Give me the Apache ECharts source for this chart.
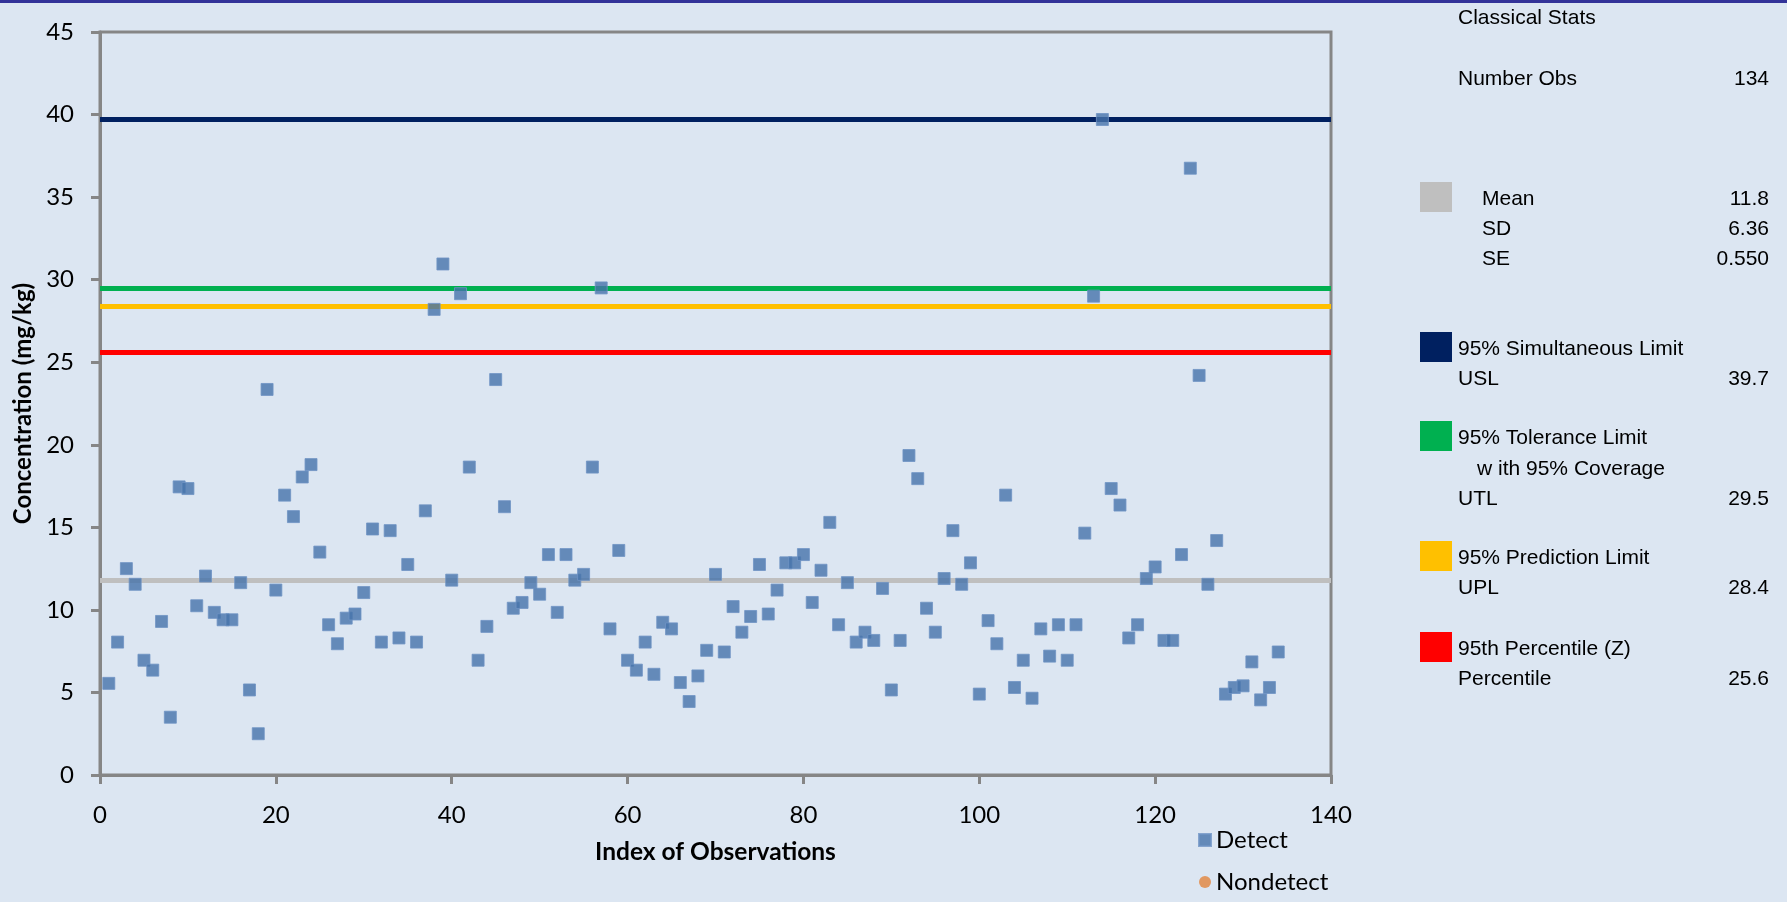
<!DOCTYPE html>
<html>
<head>
<meta charset="utf-8">
<script src="https://cdn.jsdelivr.net/npm/echarts@6/dist/echarts.min.js"></script>
<style>
html,body{margin:0;padding:0;background:#DCE6F2;}
#chart{width:1787px;height:902px;}
</style>
</head>
<body>
<div id="chart"></div>
<script>
// ---- data ----
const detectValues = [
  5.55, 8.05, 12.5, 11.55, 6.95, 6.35, 9.3, 3.5, 17.45, 17.35,
  10.25, 12.05, 9.85, 9.4, 9.4, 11.65, 5.15, 2.5, 23.35, 11.2,
  16.95, 15.65, 18.05, 18.8, 13.5, 9.1, 7.95, 9.5, 9.75, 11.05,
  14.9, 8.05, 14.8, 8.3, 12.75, 8.05, 16.0, 28.2, 30.95, 11.8,
  29.15, 18.65, 6.95, 9.0, 23.95, 16.25, 10.1, 10.45, 11.65, 10.95,
  13.35, 9.85, 13.35, 11.8, 12.15, 18.65, 29.5, 8.85, 13.6, 6.95,
  6.35, 8.05, 6.1, 9.25, 8.85, 5.6, 4.45, 6.0, 7.55, 12.15,
  7.45, 10.2, 8.65, 9.6, 12.75, 9.75, 11.2, 12.85, 12.85, 13.35,
  10.45, 12.4, 15.3, 9.1, 11.65, 8.05, 8.65, 8.15, 11.3, 5.15,
  8.15, 19.35, 17.95, 10.1, 8.65, 11.9, 14.8, 11.55, 12.85, 4.9,
  9.35, 7.95, 16.95, 5.3, 6.95, 4.65, 8.85, 7.2, 9.1, 6.95,
  9.1, 14.65, 29.0, 39.7, 17.35, 16.35, 8.3, 9.1, 11.9, 12.6,
  8.15, 8.15, 13.35, 36.75, 24.2, 11.55, 14.2, 4.9, 5.3, 5.4,
  6.85, 4.55, 5.3, 7.45
];
const nondetectValues = [];

const meanValue = 11.8;
const limitValues = [39.7, 29.5, 28.4, 25.6];          // USL, UTL, UPL, Percentile
const limitColors = ['#002060', '#00B050', '#FFC000', '#FF0000'];
const meanColor = '#BFBFBF';

const xTicks = { min: 0, max: 140, interval: 20 };
const yTicks = { min: 0, max: 45, interval: 5 };

// stats panel text
const panelTitle = 'Classical Stats';
const numberObsLabel = 'Number Obs';
const numberObsValue = '134';
const meanLabels = ['Mean', 'SD', 'SE'];
const meanTexts = ['11.8', '6.36', '0.550'];
const limitTitles = [
  ['95% Simultaneous Limit'],
  ['95% Tolerance Limit', 'w ith 95% Coverage'],
  ['95% Prediction Limit'],
  ['95th Percentile (Z)']
];
const limitShort = ['USL', 'UTL', 'UPL', 'Percentile'];
const limitTexts = ['39.7', '29.5', '28.4', '25.6'];

// ---- build chart ----
const chart = echarts.init(document.getElementById('chart'));
const axisGray = '#868686';
const labX = 1458, valX = 1769, swX = 1420, swW = 32, swH = 30;

const graphics = [];
graphics.push({type:'rect', left:0, top:0, shape:{width:1787, height:3}, style:{fill:'#333399'}, silent:true});
function txt(x, y, s, align){
  graphics.push({type:'text', x:x, y:y, style:{text:s, fontFamily:'"Liberation Sans", Arial, sans-serif', fontSize:21, fill:'#000', align:align||'left', verticalAlign:'middle'}, silent:true});
}
function swatch(yTop, color){
  graphics.push({type:'rect', shape:{x:swX, y:yTop, width:swW, height:swH}, style:{fill:color}, silent:true});
}
txt(labX, 18, panelTitle);
txt(labX, 79, numberObsLabel); txt(valX, 79, numberObsValue, 'right');
swatch(182, meanColor);
meanLabels.forEach((l, i) => { txt(1482, 199 + i*30, l); txt(valX, 199 + i*30, meanTexts[i], 'right'); });
const groupTops = [349, 438, 558, 649];
limitTitles.forEach((lines, g) => {
  const y0 = groupTops[g];
  swatch(y0 - 17, limitColors[g]);
  lines.forEach((l, j) => txt(j === 0 ? labX : 1477, y0 + j*31, l));
  const yv = y0 + lines.length*30.5;
  txt(labX, yv, limitShort[g]);
  txt(valX, yv, limitTexts[g], 'right');
});

const hLines = [meanValue].concat(limitValues);
const hColors = [meanColor].concat(limitColors);

chart.setOption({
  backgroundColor: '#DCE6F2',
  animation: false,
  textStyle: { fontFamily: 'Lato, sans-serif' },
  grid: { left: 100, top: 32, right: 456, bottom: 127, show: true, borderColor: axisGray, borderWidth: 3, backgroundColor: 'transparent' },
  xAxis: {
    type: 'value', min: xTicks.min, max: xTicks.max, interval: xTicks.interval,
    name: 'Index of Observations', nameLocation: 'middle', nameGap: 65,
    nameTextStyle: { fontFamily: 'Lato', fontWeight: 'bold', fontSize: 24.5, color: '#000' },
    axisLine: { lineStyle: { color: axisGray, width: 3 } },
    axisTick: { show: true, inside: false, length: 9, lineStyle: { color: axisGray, width: 3 } },
    axisLabel: { fontFamily: 'Lato', fontSize: 24, color: '#000', margin: 28 },
    splitLine: { show: false }
  },
  yAxis: {
    type: 'value', min: yTicks.min, max: yTicks.max, interval: yTicks.interval,
    name: 'Concentration (mg/kg)', nameLocation: 'middle', nameGap: 62,
    nameTextStyle: { fontFamily: 'Lato', fontWeight: 'bold', fontSize: 24, color: '#000' },
    axisLine: { lineStyle: { color: axisGray, width: 3 } },
    axisTick: { show: true, inside: false, length: 9, lineStyle: { color: axisGray, width: 3 } },
    axisLabel: { fontFamily: 'Lato', fontSize: 24, color: '#000', margin: 26 },
    splitLine: { show: false }
  },
  legend: {
    orient: 'vertical', left: 1193, top: 823, itemGap: 18, itemWidth: 12, itemHeight: 12,
    textStyle: { fontFamily: 'Lato', fontSize: 24, color: '#000' },
    data: [{ name: 'Detect', icon: 'rect' }, { name: 'Nondetect', icon: 'circle' }]
  },
  graphic: graphics,
  series: [
    {
      name: 'Limits', type: 'line', data: [], silent: true,
      markLine: {
        silent: true, symbol: 'none', label: { show: false }, animation: false,
        data: hLines.map((v, i) => ({ yAxis: v, lineStyle: { color: hColors[i], width: 5, type: 'solid' } }))
      }
    },
    {
      name: 'Detect', type: 'scatter', symbol: 'rect', symbolSize: 12,
      itemStyle: { color: '#4673AA', borderColor: '#6F93C4', borderWidth: 1 },
      data: detectValues.map((v, i) => [i + 1, v]), z: 5
    },
    {
      name: 'Nondetect', type: 'scatter', symbol: 'circle', symbolSize: 12,
      itemStyle: { color: '#E2843C' },
      data: nondetectValues.map((v, i) => [i + 1, v]), z: 5
    }
  ]
});
</script>
</body>
</html>
